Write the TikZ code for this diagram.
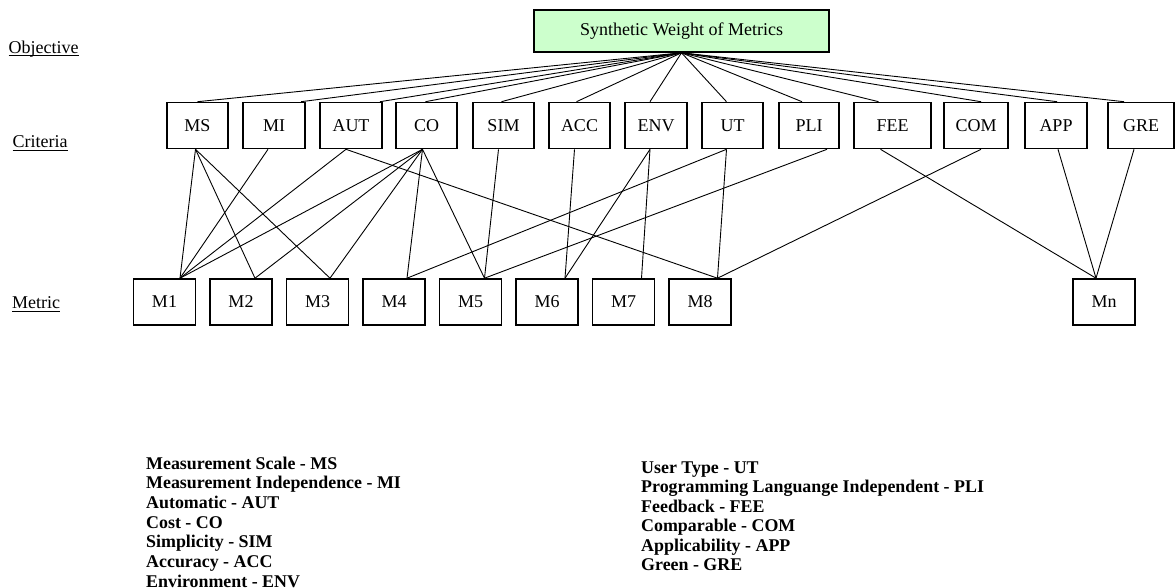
\documentclass[tikz,border=0pt]{standalone}
\usepackage{fontspec}
\setmainfont{Liberation Serif}
\usetikzlibrary{calc}
\definecolor{topgreen}{HTML}{CCFFCC}
\begin{document}
\begin{tikzpicture}[x=1pt,y=-1pt,
  box/.style={draw, line width=1.6pt, minimum height=46pt, inner sep=0pt,
              font=\fontsize{18}{20}\selectfont},
  lbl/.style={anchor=west, inner sep=0pt, font=\fontsize{18}{20}\selectfont},
  uline/.style={line width=0.9pt},
  conn/.style={line width=0.9pt},
  leg/.style={anchor=base west, inner sep=0pt, font=\fontsize{17.9}{19.6}\selectfont\bfseries}]
\useasboundingbox (0,0) rectangle (1176,587);

% objective
\node[box, fill=topgreen, minimum width=295pt, minimum height=42pt] (top) at (681.5,31) {Synthetic Weight of Metrics};

% level labels
\node[lbl] (objl) at (8.5,49) {Objective};
\node[lbl] (critl) at (12.5,142) {Criteria};
\node[lbl] (metl) at (12,303) {Metric};
\foreach \n in {objl, critl, metl}
  \draw[uline] ($(\n.base west)+(0,2.5)$) -- ($(\n.base east)+(0,2.5)$);

% criteria
\begin{scope}[every node/.append style={minimum height=47pt}]
\node[box, minimum width=61.5pt] (MS)  at (197.5,125.5) {MS};
\node[box, minimum width=61.5pt] (MI)  at (274,125.5) {MI};
\node[box, minimum width=61.5pt] (AUT) at (351,125.5) {AUT};
\node[box, minimum width=61.5pt] (CO)  at (426.5,125.5) {CO};
\node[box, minimum width=61.5pt] (SIM) at (503.5,125.5) {SIM};
\node[box, minimum width=61.5pt] (ACC) at (579.5,125.5) {ACC};
\node[box, minimum width=61.5pt] (ENV) at (656,125.5) {ENV};
\node[box, minimum width=61.5pt] (UT)  at (732.5,125.5) {UT};
\node[box, minimum width=60pt]   (PLI) at (809,125.5) {PLI};
\node[box, minimum width=77pt]   (FEE) at (892.5,125.5) {FEE};
\node[box, minimum width=64pt]   (COM) at (976,125.5) {COM};
\node[box, minimum width=62pt]   (APP) at (1056,125.5) {APP};
\node[box, minimum width=66pt]   (GRE) at (1141,125.5) {GRE};
\end{scope}

% metrics
\foreach \i/\x in {1/164.5, 2/241, 3/317.5, 4/394, 5/470.5, 6/547, 7/623.5, 8/700}
  \node[box, minimum width=62pt] (M\i) at (\x,302) {M\i};
\node[box, minimum width=62pt] (Mn) at (1104,302) {Mn};

% objective -> criteria
\foreach \n/\d in {MS/0, MI/27, AUT/29, CO/-1, SIM/-2, ACC/-3, ENV/-6, UT/-6, PLI/-7, FEE/-14, COM/5, APP/1, GRE/-17}
  \draw[conn] (top.south) -- ($(\n.north)+(\d,0)$);

% attachment points
\foreach \n/\d in {MS/-2, MI/-6, AUT/-5, CO/-4, SIM/-5, ACC/-5, ENV/-6, UT/-6, PLI/18, FEE/-12, COM/5, APP/2, GRE/-7}
  \coordinate (\n-b) at ($(\n.south)+(\d,0)$);
\foreach \n/\d in {M1/15.5, M2/14, M3/12.5, M4/13, M5/14, M6/18, M7/18, M8/17.5, Mn/-8}
  \coordinate (\n-t) at ($(\n.north)+(\d,0)$);

% criteria -> metrics
\foreach \a/\b in {MS/M1, MS/M2, MS/M3, MI/M1, AUT/M1, AUT/M8,
                   CO/M1, CO/M2, CO/M3, CO/M4, CO/M5, SIM/M5, ACC/M6,
                   ENV/M6, ENV/M7, UT/M4, UT/M8, PLI/M5, FEE/Mn, COM/M8,
                   APP/Mn, GRE/Mn}
  \draw[conn] (\a-b) -- (\b-t);

% legend
\foreach \t [count=\i from 0] in {Measurement Scale - MS, Measurement Independence - MI,
    Automatic - AUT, Cost - CO, Simplicity - SIM, Accuracy - ACC, Environment - ENV}
  \node[leg] (la\i) at (146,{469+19.7*\i}) {\t};
\foreach \t [count=\i from 0] in {User Type - UT, Programming Languange Independent - PLI,
    Feedback - FEE, Comparable - COM, Applicability - APP, Green - GRE}
  \node[leg] (lb\i) at (641,{473+19.5*\i}) {\t};
\end{tikzpicture}
\end{document}
